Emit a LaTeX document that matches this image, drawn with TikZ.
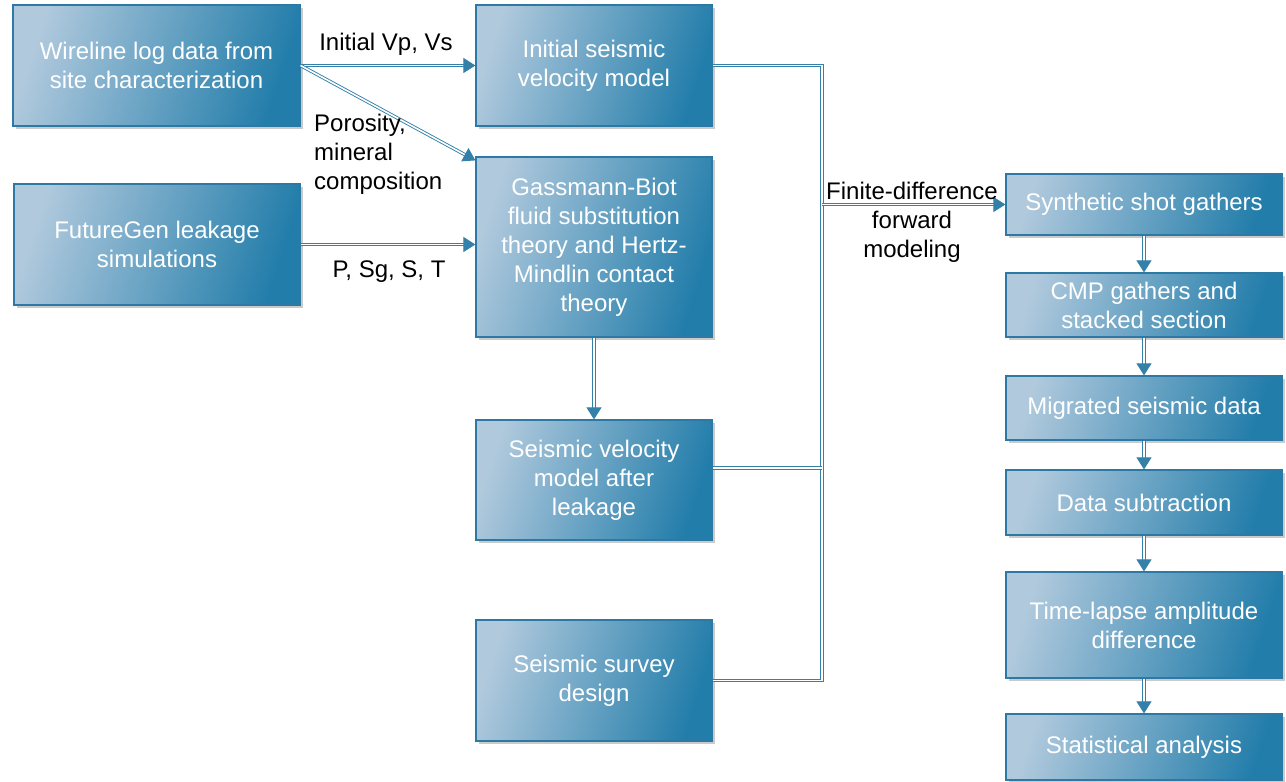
\documentclass[tikz,border=0pt]{standalone}
\usepackage{fontspec}
\setmainfont{Liberation Sans}
\usetikzlibrary{arrows.meta,shadows}
\definecolor{boxlight}{RGB}{176,201,221}
\definecolor{boxdark}{RGB}{34,125,170}
\definecolor{boxedge}{RGB}{44,122,164}
\definecolor{linkblue}{RGB}{52,128,168}
\tikzset{
  stage/.style={rectangle, draw=boxedge, line width=1.2pt, left color=boxlight, right color=boxdark,
    shading angle=72, text=white, inner sep=0pt, align=center, font=\fontsize{24}{29}\selectfont,
    drop shadow={shadow xshift=3pt, shadow yshift=-3pt, opacity=0.35, fill=black!60}},
  link/.style={draw=linkblue, line width=0.9pt, double=white, double distance=1.6pt},
  linkarrow/.style={link, -{Triangle[length=12pt,width=15pt]}},
  note/.style={font=\fontsize{24}{29}\selectfont, text=black, inner sep=0pt},
}
\begin{document}
\begin{tikzpicture}[x=1pt,y=1pt,yscale=-1]
\useasboundingbox (0,0) rectangle (1286,782);

% Input boxes
\node[stage, minimum width=287pt, minimum height=121pt] (wire) at (156.5,65.5) {Wireline log data from\\site characterization};
\node[stage, minimum width=286pt, minimum height=121pt] (future) at (157,244.5) {FutureGen leakage\\simulations};

% Model boxes
\node[stage, minimum width=236pt, minimum height=121pt] (init) at (594,65.5) {Initial seismic\\velocity model};
\node[stage, minimum width=236pt, minimum height=180pt] (gass) at (594,247) {Gassmann-Biot\\fluid substitution\\theory and Hertz-\\Mindlin contact\\theory};
\node[stage, minimum width=236pt, minimum height=120pt] (after) at (594,480) {Seismic velocity\\model after\\leakage};
\node[stage, minimum width=236pt, minimum height=121pt] (survey) at (594,680.5) {Seismic survey\\design};

% Processing column
\node[stage, minimum width=276pt, minimum height=61pt] (synth) at (1144,204.5) {Synthetic shot gathers};
\node[stage, minimum width=276pt, minimum height=64pt] (cmp) at (1144,305) {CMP gathers and\\stacked section};
\node[stage, minimum width=276pt, minimum height=64pt] (migr) at (1144,408) {Migrated seismic data};
\node[stage, minimum width=276pt, minimum height=65pt] (subtr) at (1144,502.5) {Data subtraction};
\node[stage, minimum width=276pt, minimum height=106pt] (tlapse) at (1144,625) {Time-lapse amplitude\\difference};
\node[stage, minimum width=276pt, minimum height=66pt] (stats) at (1144,747) {Statistical analysis};

%Straight Lines
\draw[linkarrow] (wire.east) -- (init.west);
\draw[linkarrow] (wire.east) -- ([yshift=4pt]gass.north west);
\draw[linkarrow] (future.east) -- (gass.west |- future.east);
\draw[linkarrow] (gass) -- (after);

% Collector line
\coordinate (bustop) at (822,65.5);
\draw[link] (init.east) -- (bustop) -- (bustop |- survey.east) -- (survey.east);
\draw[link] ([yshift=-12pt]after.east) -- ([yshift=-12pt]after.east -| bustop);
\draw[linkarrow] (bustop |- synth.west) -- (synth.west);

\draw[linkarrow] (synth) -- (cmp);
\draw[linkarrow] (cmp) -- (migr);
\draw[linkarrow] (migr) -- (subtr);
\draw[linkarrow] (subtr) -- (tlapse);
\draw[linkarrow] (tlapse) -- (stats);

% Text Node
\node[note] (lblvel) at (386,44) {Initial Vp, Vs};
% Text Node
\node[note, anchor=west, align=left] (lblpor) at (314,154) {Porosity,\\mineral\\composition};
% Text Node
\node[note] (lblsim) at (389,272) {P, Sg, S, T};
% Text Node
\node[note, align=center] (lblfd) at (912,222) {Finite-difference\\forward\\modeling};

\end{tikzpicture}
\end{document}
